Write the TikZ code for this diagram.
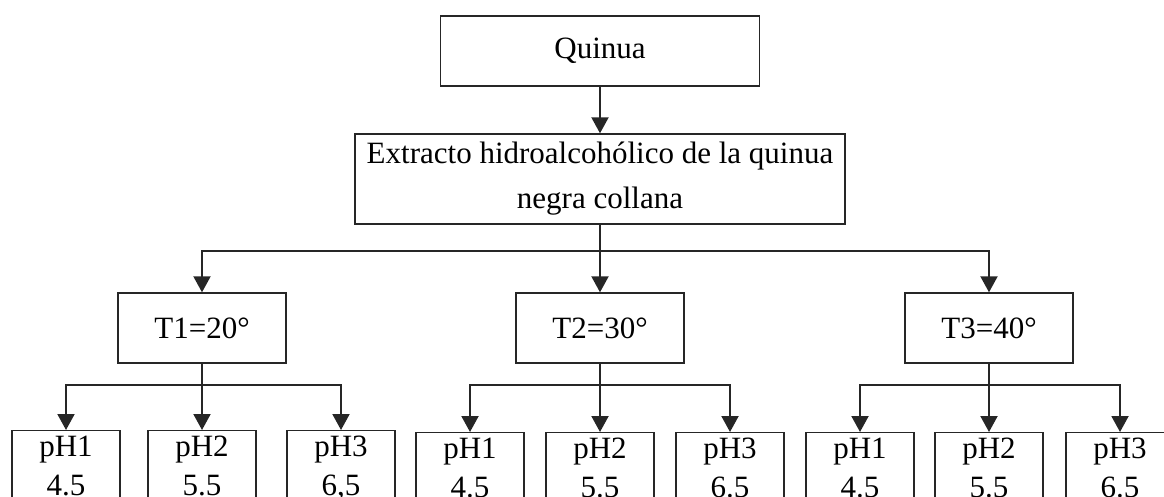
\documentclass[tikz,border=0pt]{standalone}
\usepackage{fontspec}
\setmainfont{Liberation Serif}
\usetikzlibrary{arrows.meta}

\begin{document}
\begin{tikzpicture}[x=1pt,y=-1pt,
    box/.style={draw=black!85,line width=1.4pt,align=center,
      font=\fontsize{31}{45}\selectfont},
    phbox/.style={box,anchor=north,minimum width=108pt,inner xsep=0pt,
      inner ysep=5pt,text depth=40pt,font=\fontsize{31}{39}\selectfont},
    arr/.style={draw=black!85,line width=2pt,-{Triangle[width=17pt,length=16pt]}},
    ln/.style={draw=black!85,line width=2pt}]
    \useasboundingbox (0,0) rectangle (1164,496);

    \node[box,minimum width=319pt,minimum height=70pt] (quinua) at (600,51) {Quinua};
    \node[box,minimum width=490pt,minimum height=90pt] (extracto) at (600,179)
      {Extracto hidroalcohólico de la quinua\\negra collana};

    \node[box,minimum width=168pt,minimum height=70pt] (t1) at (202,328) {T1=20°};
    \node[box,minimum width=168pt,minimum height=70pt] (t2) at (600,328) {T2=30°};
    \node[box,minimum width=168pt,minimum height=70pt] (t3) at (989,328) {T3=40°};

    \node[phbox] (p11) at (66,430)   {pH1\\4.5};
    \node[phbox] (p12) at (202,430)  {pH2\\5.5};
    \node[phbox] (p13) at (341,430)  {pH3\\6,5};
    \node[phbox] (p21) at (470,432)  {pH1\\4.5};
    \node[phbox] (p22) at (600,432)  {pH2\\5.5};
    \node[phbox] (p23) at (730,432)  {pH3\\6.5};
    \node[phbox] (p31) at (860,432)  {pH1\\4.5};
    \node[phbox] (p32) at (989,432)  {pH2\\5.5};
    \node[phbox] (p33) at (1120,432) {pH3\\6.5};

    \coordinate (j0) at (600,251);
    \coordinate (j1) at (202,385);
    \coordinate (j2) at (600,385);
    \coordinate (j3) at (989,385);

    \draw[arr] (quinua) -- (extracto);
    \draw[ln] (extracto) -- (j0);
    \draw[arr] (j0) -| (t1);
    \draw[arr] (j0) -- (t2);
    \draw[arr] (j0) -| (t3);

    \draw[ln] (t1) -- (j1);
    \draw[arr] (j1) -| (p11);
    \draw[arr] (j1) -- (p12);
    \draw[arr] (j1) -| (p13);

    \draw[ln] (t2) -- (j2);
    \draw[arr] (j2) -| (p21);
    \draw[arr] (j2) -- (p22);
    \draw[arr] (j2) -| (p23);

    \draw[ln] (t3) -- (j3);
    \draw[arr] (j3) -| (p31);
    \draw[arr] (j3) -- (p32);
    \draw[arr] (j3) -| (p33);
  \end{tikzpicture}
\end{document}
